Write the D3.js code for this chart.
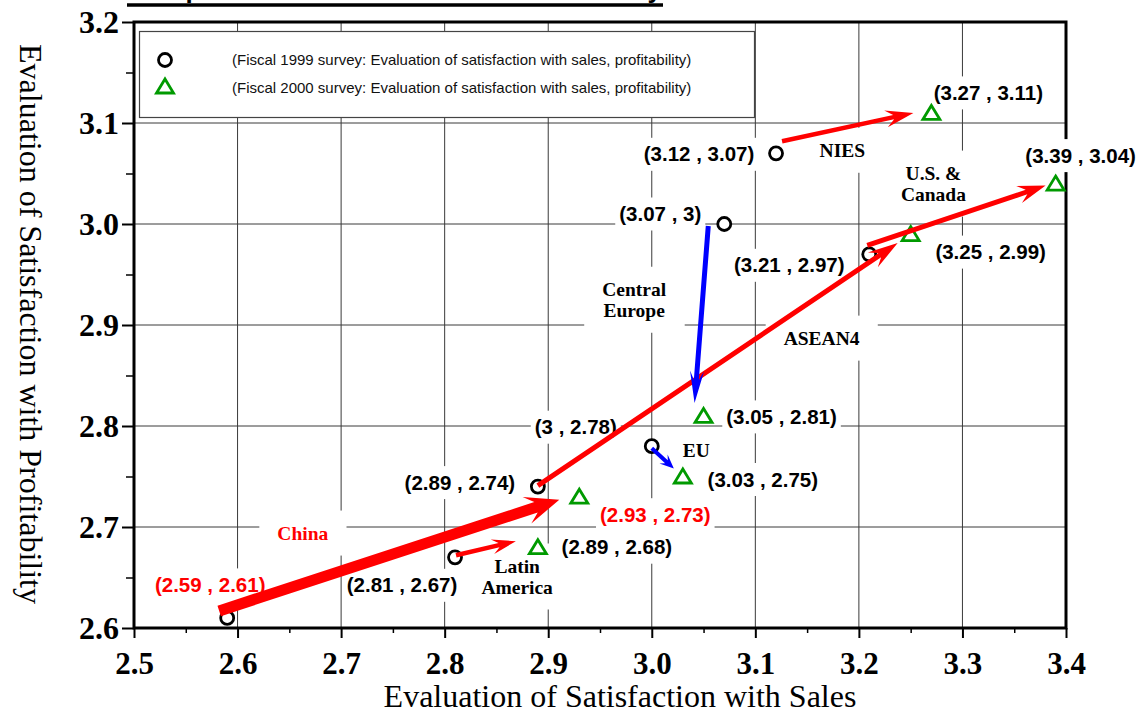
<!DOCTYPE html>
<html>
<head>
<meta charset="utf-8">
<script src="https://cdn.jsdelivr.net/npm/d3@7"></script>
<style>
  html, body { margin: 0; padding: 0; background: #fff; }
  svg { display: block; }
</style>
</head>
<body>
<svg id="chart" width="1138" height="714"></svg>
<script>
// ---- data ----
const regions = ["China", "Latin America", "ASEAN4", "EU", "Central Europe", "NIES", "U.S. & Canada"];
const sales1999  = [2.59, 2.81, 2.89, 3.00, 3.07, 3.12, 3.21];
const profit1999 = [2.61, 2.67, 2.74, 2.78, 3.00, 3.07, 2.97];
const sales2000  = [2.93, 2.89, 3.25, 3.03, 3.05, 3.27, 3.39];
const profit2000 = [2.73, 2.68, 2.99, 2.75, 2.81, 3.11, 3.04];
const xTickValues = [2.5, 2.6, 2.7, 2.8, 2.9, 3.0, 3.1, 3.2, 3.3, 3.4];
const xTickLabels = ["2.5", "2.6", "2.7", "2.8", "2.9", "3.0", "3.1", "3.2", "3.3", "3.4"];
const yTickValues = [2.6, 2.7, 2.8, 2.9, 3.0, 3.1, 3.2];
const yTickLabels = ["2.6", "2.7", "2.8", "2.9", "3.0", "3.1", "3.2"];
const legendLabels = [
  "(Fiscal 1999 survey: Evaluation of satisfaction with sales, profitability)",
  "(Fiscal 2000 survey: Evaluation of satisfaction with sales, profitability)"
];
const titleText = "Comparison with Results of FY1999 Survey";
const xTitle = "Evaluation of Satisfaction with Sales";
const yTitle = "Evaluation of Satisfaction with  Profitability";

// ---- styling / layout ----
const RED = "#ff0000", BLUE = "#0000ff", GREEN = "#009a00";
const arrowColor = [RED, RED, RED, BLUE, BLUE, RED, RED];
const labelColor = [RED, "#000", "#000", "#000", "#000", "#000", "#000"];
// shaft width, head length, head half-width
const arrowShaft = [11, 4.5, 5, 4, 5, 4.5, 5];
const arrowHeadLen = [34, 24, 30, 14, 32, 28, 28];
const arrowHeadHalf = [14, 7.5, 9, 6, 7, 8.5, 9];
// pixel nudges of arrow tail / tip relative to the survey points
const arrowTailNudge = [[-8, -7], [1, -2], [0, -1], [0, 2], [-16, 2], [6, -12], [-2, -9]];
const arrowTipNudge = [[-20, 3], [-22, -6], [-13, 9], [-9, -8], [-9, -13], [-18, 0], [-10, 2]];
// value-label offsets (pixels from the marker)
const label1999Offset = [[-17, -33], [-53, 28], [-78, -4], [-76, -19], [-64, -10], [-77, 1], [-80, 11]];
const label2000Offset = [[76, 18], [79, 0], [80, 18], [80, 3], [78, 1], [57, -20], [25, -28]];
// region name anchors in axis units
const regionLabelAt = [[2.663, 2.694], [2.870, 2.651], [3.164, 2.887], [3.043, 2.776], [2.983, 2.925], [3.184, 3.073], [3.272, 3.040]];
const regionLabelLines = [["China"], ["Latin", "America"], ["ASEAN4"], ["EU"], ["Central", "Europe"], ["NIES"], ["U.S. &", "Canada"]];
const regionLabelColor = [RED, "#000", "#000", "#000", "#000", "#000", "#000"];

const svg = d3.select("#chart");
const x = d3.scaleLinear().domain([2.5, 3.4]).range([134, 1066]);
const y = d3.scaleLinear().domain([2.6, 3.2]).range([628, 22]);
const [x0, x1] = x.range();
const [y0, y1] = y.range();

// title (runs off the top edge), underlined
svg.append("text")
  .attr("x", 128).attr("y", -2)
  .attr("textLength", 534)
  .attr("font-family", "'Liberation Sans', Arial, sans-serif")
  .attr("font-weight", "bold").attr("font-size", 26)
  .text(titleText);
svg.append("line").attr("x1", 127).attr("x2", 663).attr("y1", 5).attr("y2", 5)
  .attr("stroke", "#000").attr("stroke-width", 3.5);

// grid
const grid = svg.append("g").attr("stroke", "#3a3a3a").attr("stroke-width", 1);
grid.selectAll("line.v").data(xTickValues.slice(1, -1)).join("line")
  .attr("x1", d => x(d)).attr("x2", d => x(d)).attr("y1", y0).attr("y2", y1);
grid.selectAll("line.h").data(yTickValues.slice(1, -1)).join("line")
  .attr("y1", d => y(d)).attr("y2", d => y(d)).attr("x1", x0).attr("x2", x1);

// minor ticks
const xMinor = xTickValues.slice(0, -1).map(v => +(v + 0.05).toFixed(2));
const yMinor = yTickValues.slice(0, -1).map(v => +(v + 0.05).toFixed(2));
svg.append("g").attr("transform", `translate(0,${y0})`)
  .call(d3.axisBottom(x).tickValues(xMinor).tickSize(5).tickFormat("").tickSizeOuter(0))
  .call(g => g.select(".domain").remove())
  .selectAll("line").attr("stroke-width", 1.5);
svg.append("g").attr("transform", `translate(${x0},0)`)
  .call(d3.axisLeft(y).tickValues(yMinor).tickSize(8).tickFormat("").tickSizeOuter(0))
  .call(g => g.select(".domain").remove())
  .selectAll("line").attr("stroke-width", 1.5);

// major axes
const xAxis = svg.append("g").attr("transform", `translate(0,${y0})`)
  .call(d3.axisBottom(x).tickValues(xTickValues).tickSize(10).tickPadding(14)
    .tickFormat((d, i) => xTickLabels[i]).tickSizeOuter(0));
xAxis.select(".domain").remove();
xAxis.selectAll("line").attr("stroke-width", 2);
xAxis.selectAll("text").attr("font-family", "'Liberation Serif', 'Times New Roman', serif")
  .attr("font-weight", "bold").attr("font-size", 31).attr("fill", "#000");

const yAxis = svg.append("g").attr("transform", `translate(${x0},0)`)
  .call(d3.axisLeft(y).tickValues(yTickValues).tickSize(12).tickPadding(3)
    .tickFormat((d, i) => yTickLabels[i]).tickSizeOuter(0));
yAxis.select(".domain").remove();
yAxis.selectAll("line").attr("stroke-width", 2);
yAxis.selectAll("text").attr("font-family", "'Liberation Serif', 'Times New Roman', serif")
  .attr("font-weight", "bold").attr("font-size", 32).attr("fill", "#000");

// frame
svg.append("rect").attr("x", x0).attr("y", y1).attr("width", x1 - x0).attr("height", y0 - y1)
  .attr("fill", "none").attr("stroke", "#000").attr("stroke-width", 3);

// axis titles
svg.append("text").attr("x", 620).attr("y", 707).attr("text-anchor", "middle")
  .attr("font-family", "'Liberation Serif', 'Times New Roman', serif").attr("font-size", 32)
  .text(xTitle);
svg.append("text").attr("transform", "translate(20,324) rotate(90)").attr("text-anchor", "middle")
  .attr("font-family", "'Liberation Serif', 'Times New Roman', serif").attr("font-size", 32)
  .text(yTitle);

// legend
const legend = svg.append("g");
legend.append("rect").attr("x", 139.5).attr("y", 31.5).attr("width", 615).attr("height", 86)
  .attr("fill", "#fff").attr("stroke", "#444").attr("stroke-width", 1.2);
legend.append("circle").attr("cx", 165).attr("cy", 60).attr("r", 6.5)
  .attr("fill", "#fff").attr("stroke", "#000").attr("stroke-width", 2.8);
legend.append("path").attr("d", "M165,80L173.5,94L156.5,94Z").attr("transform", "translate(0,-1)")
  .attr("fill", "#fff").attr("stroke", GREEN).attr("stroke-width", 2.8).attr("stroke-linejoin", "miter");
legend.selectAll("text.lg").data(legendLabels).join("text")
  .attr("x", 232).attr("y", (d, i) => 65 + i * 28)
  .attr("font-family", "'Liberation Sans Narrow', 'Arial Narrow', 'Liberation Sans', sans-serif")
  .attr("font-size", 15).attr("fill", "#111")
  .text(d => d);

// label with white backing box
function boxedText(g, cx, cy, lines, opts) {
  const grp = g.append("g");
  const rect = grp.append("rect").attr("fill", "#fff");
  const t = grp.append("text").attr("text-anchor", "middle")
    .attr("font-family", opts.family).attr("font-weight", "bold")
    .attr("font-size", opts.size).attr("fill", opts.color);
  const lh = opts.lineHeight;
  const top = cy - (lines.length - 1) * lh / 2;
  lines.forEach((ln, i) => {
    t.append("tspan").attr("x", cx).attr("y", top + i * lh + opts.size * 0.35).text(ln);
  });
  const bb = t.node().getBBox();
  rect.attr("x", bb.x - opts.padX).attr("y", cy - bb.height / 2 - opts.padY)
    .attr("width", bb.width + 2 * opts.padX).attr("height", bb.height + 2 * opts.padY);
}

const labels = svg.append("g");
const valueFont = { family: "'Liberation Sans', Arial, sans-serif", size: 20.5, lineHeight: 22, padX: 4, padY: 5 };
const regionFont = { family: "'Liberation Serif', 'Times New Roman', serif", size: 19.5, lineHeight: 21, padX: 18, padY: 12 };
const fmt = (a, b) => `(${a} , ${b})`;

regions.forEach((r, i) => {
  const [ax, ay] = regionLabelAt[i];
  boxedText(labels, x(ax), y(ay), regionLabelLines[i], Object.assign({ color: regionLabelColor[i] }, regionFont));
});
regions.forEach((r, i) => {
  boxedText(labels, x(sales1999[i]) + label1999Offset[i][0], y(profit1999[i]) + label1999Offset[i][1],
    [fmt(sales1999[i], profit1999[i])], Object.assign({ color: labelColor[i] }, valueFont));
  boxedText(labels, x(sales2000[i]) + label2000Offset[i][0], y(profit2000[i]) + label2000Offset[i][1],
    [fmt(sales2000[i], profit2000[i])], Object.assign({ color: labelColor[i] }, valueFont));
});

// markers
svg.append("g").selectAll("circle").data(regions).join("circle")
  .attr("cx", (d, i) => x(sales1999[i])).attr("cy", (d, i) => y(profit1999[i])).attr("r", 6.5)
  .attr("fill", "#fff").attr("stroke", "#000").attr("stroke-width", 2.8);
svg.append("g").selectAll("path").data(regions).join("path")
  .attr("d", (d, i) => {
    const cx = x(sales2000[i]), cy = y(profit2000[i]);
    return `M${cx},${cy - 7.5}L${cx + 8.5},${cy + 6.5}L${cx - 8.5},${cy + 6.5}Z`;
  })
  .attr("fill", "#fff").attr("stroke", GREEN).attr("stroke-width", 2.8);

// arrows from the 1999 position to the 2000 position
function arrowPoints(sx, sy, ex, ey, w, L, hw) {
  const dx = ex - sx, dy = ey - sy, len = Math.hypot(dx, dy);
  const ux = dx / len, uy = dy / len, nx = -uy, ny = ux;
  const bx = ex - ux * L, by = ey - uy * L;
  const kx = ex - ux * L * 0.72, ky = ey - uy * L * 0.72;
  const h = w / 2;
  return [
    [ex, ey],
    [bx + nx * hw, by + ny * hw],
    [kx + nx * h, ky + ny * h],
    [sx + nx * h, sy + ny * h],
    [sx - nx * h, sy - ny * h],
    [kx - nx * h, ky - ny * h],
    [bx - nx * hw, by - ny * hw]
  ];
}
svg.append("g").selectAll("polygon").data(regions).join("polygon")
  .attr("points", (d, i) => {
    const sx = x(sales1999[i]) + arrowTailNudge[i][0], sy = y(profit1999[i]) + arrowTailNudge[i][1];
    const ex = x(sales2000[i]) + arrowTipNudge[i][0], ey = y(profit2000[i]) + arrowTipNudge[i][1];
    return arrowPoints(sx, sy, ex, ey, arrowShaft[i], arrowHeadLen[i], arrowHeadHalf[i]).map(p => p.join(",")).join(" ");
  })
  .attr("fill", (d, i) => arrowColor[i]);
</script>
</body>
</html>
